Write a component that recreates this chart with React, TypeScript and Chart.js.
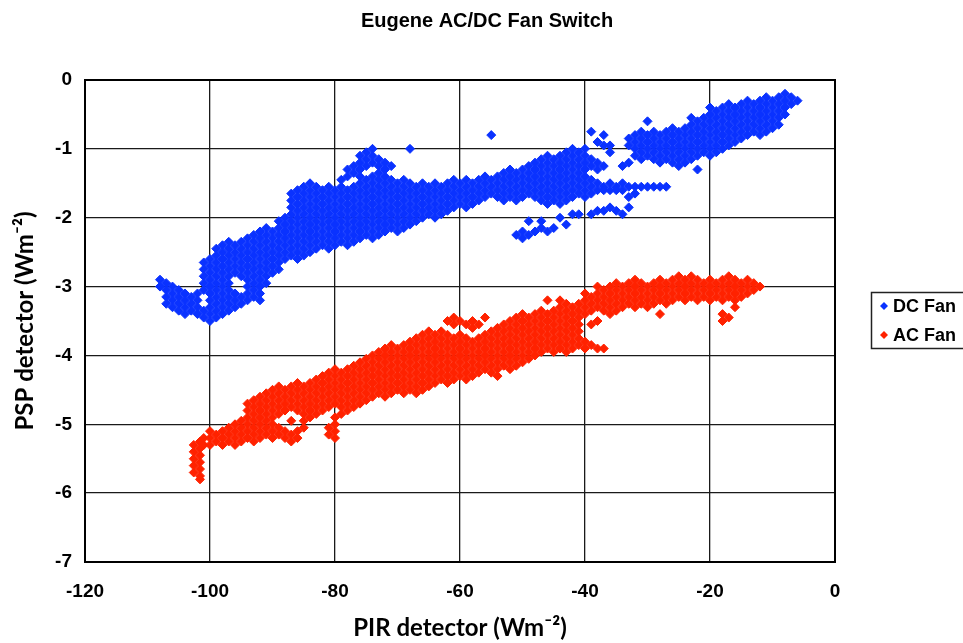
import React, { useEffect, useRef } from 'react';
import { Chart, registerables } from 'chart.js';

Chart.register(...registerables);

const chartTitle = 'Eugene AC/DC Fan Switch';
const xAxisTitle = 'PIR detector (Wm⁻²)';
const yAxisTitle = 'PSP detector (Wm⁻²)';
const seriesNames = ['DC Fan', 'AC Fan'];
const xTickValues = [-120, -100, -80, -60, -40, -20, 0];
const yTickValues = [0, -1, -2, -3, -4, -5, -6, -7];

// DC Fan: [PIR x, PSP y values read at that x]
const dcColumns: [number, number[]][] = [
  [-108, [-2.9, -3.0]],
  [-107, [-2.95, -3.05, -3.15, -3.25]],
  [-106, [-3.0, -3.1, -3.2, -3.3]],
  [-105, [-3.05, -3.15, -3.25, -3.35]],
  [-104, [-3.1, -3.2, -3.3, -3.4]],
  [-103, [-3.15, -3.25, -3.35]],
  [-102, [-3.1, -3.2, -3.3, -3.4]],
  [-101, [-2.65, -2.75, -2.85, -2.95, -3.05, -3.35, -3.45]],
  [-100, [-2.6, -2.7, -2.8, -2.9, -3.0, -3.1, -3.2, -3.3, -3.4, -3.5]],
  [-99, [-2.45, -2.55, -2.65, -2.75, -2.85, -2.95, -3.05, -3.15, -3.25, -3.35, -3.45]],
  [-98, [-2.4, -2.5, -2.6, -2.7, -2.8, -2.9, -3.0, -3.1, -3.2, -3.3, -3.4]],
  [-97, [-2.35, -2.45, -2.55, -2.65, -2.75, -2.85, -2.95, -3.05, -3.15, -3.25, -3.35]],
  [-96, [-2.4, -2.5, -2.6, -2.7, -2.8, -3.1, -3.2, -3.3]],
  [-95, [-2.35, -2.45, -2.55, -2.65, -2.75, -2.85, -3.15, -3.25]],
  [-94, [-2.3, -2.4, -2.5, -2.6, -2.7, -2.8, -2.9, -3.0, -3.1, -3.2]],
  [-93, [-2.25, -2.35, -2.45, -2.55, -2.65, -2.75, -2.85, -2.95, -3.05, -3.15]],
  [-92, [-2.2, -2.3, -2.4, -2.5, -2.6, -2.7, -2.8, -2.9, -3.0, -3.1, -3.2]],
  [-91, [-2.15, -2.25, -2.35, -2.45, -2.55, -2.65, -2.75, -2.85, -2.95]],
  [-90, [-2.2, -2.3, -2.4, -2.5, -2.6, -2.7, -2.8]],
  [-89, [-2.05, -2.15, -2.25, -2.35, -2.45, -2.55, -2.65, -2.75]],
  [-88, [-2.0, -2.1, -2.2, -2.3, -2.4, -2.5, -2.6]],
  [-87, [-1.65, -1.75, -1.85, -1.95, -2.05, -2.15, -2.25, -2.35, -2.45, -2.55]],
  [-86, [-1.6, -1.7, -1.8, -1.9, -2.0, -2.1, -2.2, -2.3, -2.4, -2.5, -2.6]],
  [-85, [-1.55, -1.65, -1.75, -1.85, -1.95, -2.05, -2.15, -2.25, -2.35, -2.45, -2.55]],
  [-84, [-1.5, -1.6, -1.7, -1.8, -1.9, -2.0, -2.1, -2.2, -2.3, -2.4, -2.5]],
  [-83, [-1.55, -1.65, -1.75, -1.85, -1.95, -2.05, -2.15, -2.25, -2.35, -2.45]],
  [-82, [-1.6, -1.7, -1.8, -1.9, -2.0, -2.1, -2.2, -2.3, -2.4]],
  [-81, [-1.55, -1.65, -1.75, -1.85, -1.95, -2.05, -2.15, -2.25, -2.35, -2.45]],
  [-80, [-1.6, -1.7, -1.8, -1.9, -2.0, -2.1, -2.2, -2.3, -2.4]],
  [-79, [-1.45, -1.55, -1.65, -1.75, -1.85, -1.95, -2.05, -2.15, -2.25, -2.35]],
  [-78, [-1.3, -1.4, -1.6, -1.7, -1.8, -1.9, -2.0, -2.1, -2.2, -2.3, -2.4]],
  [-77, [-1.25, -1.35, -1.55, -1.65, -1.75, -1.85, -1.95, -2.05, -2.15, -2.25, -2.35]],
  [-76, [-1.1, -1.2, -1.3, -1.4, -1.5, -1.6, -1.7, -1.8, -1.9, -2.0, -2.1, -2.2, -2.3]],
  [-75, [-1.05, -1.15, -1.25, -1.45, -1.55, -1.65, -1.75, -1.85, -1.95, -2.05, -2.15, -2.25]],
  [-74, [-1.0, -1.1, -1.2, -1.4, -1.5, -1.6, -1.7, -1.8, -1.9, -2.0, -2.1, -2.2, -2.3]],
  [-73, [-1.15, -1.25, -1.35, -1.45, -1.55, -1.65, -1.75, -1.85, -1.95, -2.05, -2.15, -2.25]],
  [-72, [-1.2, -1.3, -1.4, -1.5, -1.6, -1.7, -1.8, -1.9, -2.0, -2.1, -2.2]],
  [-71, [-1.25, -1.45, -1.55, -1.65, -1.75, -1.85, -1.95, -2.05, -2.15]],
  [-70, [-1.5, -1.6, -1.7, -1.8, -1.9, -2.0, -2.1, -2.2]],
  [-69, [-1.45, -1.55, -1.65, -1.75, -1.85, -1.95, -2.05, -2.15]],
  [-68, [-1.0, -1.5, -1.6, -1.7, -1.8, -1.9, -2.0, -2.1]],
  [-67, [-1.55, -1.65, -1.75, -1.85, -1.95, -2.05]],
  [-66, [-1.5, -1.6, -1.7, -1.8, -1.9, -2.0]],
  [-65, [-1.55, -1.65, -1.75, -1.85, -1.95]],
  [-64, [-1.5, -1.6, -1.7, -1.8, -1.9, -2.0]],
  [-63, [-1.55, -1.65, -1.75, -1.85, -1.95]],
  [-62, [-1.5, -1.6, -1.7, -1.8, -1.9]],
  [-61, [-1.45, -1.55, -1.65, -1.75, -1.85]],
  [-60, [-1.5, -1.6, -1.7, -1.8]],
  [-59, [-1.45, -1.55, -1.65, -1.75, -1.85]],
  [-58, [-1.5, -1.6, -1.7, -1.8]],
  [-57, [-1.45, -1.55, -1.65, -1.75]],
  [-56, [-1.4, -1.5, -1.6, -1.7]],
  [-55, [-0.8, -1.45, -1.55, -1.65]],
  [-54, [-1.4, -1.5, -1.6, -1.7]],
  [-53, [-1.35, -1.45, -1.55, -1.65, -1.75]],
  [-52, [-1.3, -1.4, -1.5, -1.6, -1.7]],
  [-51, [-1.35, -1.45, -1.55, -1.65, -1.75, -2.25]],
  [-50, [-1.3, -1.4, -1.5, -1.6, -1.7, -2.2, -2.3]],
  [-49, [-1.25, -1.35, -1.45, -1.55, -1.65, -2.05, -2.25]],
  [-48, [-1.2, -1.3, -1.4, -1.5, -1.6, -1.7, -2.2]],
  [-47, [-1.15, -1.25, -1.35, -1.45, -1.55, -1.65, -1.75, -2.05, -2.15]],
  [-46, [-1.1, -1.2, -1.3, -1.4, -1.5, -1.6, -1.7, -1.8, -2.2]],
  [-45, [-1.15, -1.25, -1.35, -1.45, -1.55, -1.65, -1.75, -2.15]],
  [-44, [-1.1, -1.2, -1.3, -1.4, -1.5, -1.6, -1.7, -1.8, -2.0]],
  [-43, [-1.05, -1.15, -1.25, -1.35, -1.45, -1.55, -1.65, -1.75, -2.1]],
  [-42, [-1.0, -1.1, -1.2, -1.3, -1.4, -1.5, -1.6, -1.7, -1.95]],
  [-41, [-1.05, -1.15, -1.25, -1.35, -1.45, -1.55, -1.65, -1.95]],
  [-40, [-1.0, -1.1, -1.2, -1.3, -1.4, -1.5, -1.6, -1.7]],
  [-39, [-0.75, -1.15, -1.25, -1.45, -1.55, -1.65, -1.95]],
  [-38, [-0.9, -1.2, -1.3, -1.5, -1.6, -1.9]],
  [-37, [-0.8, -0.95, -1.25, -1.55, -1.6, -1.9]],
  [-36, [-0.95, -1.05, -1.5, -1.6, -1.85]],
  [-35, [-1.55, -1.6, -1.9]],
  [-34, [-1.25, -1.5, -1.6, -1.95]],
  [-33, [-0.85, -0.95, -1.2, -1.55, -1.7, -1.85]],
  [-32, [-0.8, -0.9, -1.0, -1.1, -1.55, -1.65]],
  [-31, [-0.75, -0.85, -0.95, -1.05, -1.15, -1.55]],
  [-30, [-0.6, -0.8, -0.9, -1.0, -1.1, -1.55]],
  [-29, [-0.75, -0.85, -0.95, -1.05, -1.15, -1.55]],
  [-28, [-0.8, -0.9, -1.0, -1.1, -1.2, -1.55]],
  [-27, [-0.75, -0.85, -0.95, -1.05, -1.15, -1.55]],
  [-26, [-0.7, -0.8, -0.9, -1.0, -1.1, -1.2]],
  [-25, [-0.75, -0.85, -0.95, -1.05, -1.15, -1.25]],
  [-24, [-0.7, -0.8, -0.9, -1.0, -1.1, -1.2]],
  [-23, [-0.55, -0.65, -0.75, -0.85, -0.95, -1.05, -1.15]],
  [-22, [-0.6, -0.7, -0.8, -0.9, -1.0, -1.1, -1.3]],
  [-21, [-0.55, -0.65, -0.75, -0.85, -0.95, -1.05]],
  [-20, [-0.4, -0.5, -0.6, -0.7, -0.8, -0.9, -1.0, -1.1]],
  [-19, [-0.45, -0.55, -0.65, -0.75, -0.85, -0.95, -1.05]],
  [-18, [-0.4, -0.5, -0.6, -0.7, -0.8, -0.9, -1.0]],
  [-17, [-0.35, -0.45, -0.55, -0.65, -0.75, -0.85, -0.95]],
  [-16, [-0.4, -0.5, -0.6, -0.7, -0.8, -0.9]],
  [-15, [-0.35, -0.45, -0.55, -0.65, -0.75, -0.85]],
  [-14, [-0.3, -0.4, -0.5, -0.6, -0.7, -0.8]],
  [-13, [-0.35, -0.45, -0.55, -0.65, -0.75]],
  [-12, [-0.3, -0.4, -0.5, -0.6, -0.7, -0.8]],
  [-11, [-0.25, -0.35, -0.45, -0.55, -0.65, -0.75]],
  [-10, [-0.3, -0.4, -0.5, -0.6, -0.7]],
  [-9, [-0.25, -0.35, -0.45, -0.55, -0.65]],
  [-8, [-0.2, -0.3, -0.4, -0.5]],
  [-7, [-0.25, -0.35]],
  [-6, [-0.3]],
];

// AC Fan: [PIR x, PSP y values read at that x]
const acColumns: [number, number[]][] = [
  [-102.6, [-5.3, -5.4, -5.5, -5.6, -5.7]],
  [-101.6, [-5.25, -5.35, -5.45, -5.55, -5.65, -5.75, -5.8]],
  [-101, [-5.2, -5.3]],
  [-100, [-5.1, -5.2, -5.3]],
  [-99, [-5.15, -5.25]],
  [-98, [-5.1, -5.2, -5.3]],
  [-97, [-5.05, -5.15, -5.25]],
  [-96, [-5.0, -5.1, -5.2, -5.3]],
  [-95, [-4.95, -5.05, -5.15, -5.25]],
  [-94, [-4.7, -4.8, -4.9, -5.0, -5.1, -5.2]],
  [-93, [-4.65, -4.75, -4.85, -4.95, -5.05, -5.15, -5.25]],
  [-92, [-4.6, -4.7, -4.8, -4.9, -5.0, -5.1, -5.2]],
  [-91, [-4.55, -4.65, -4.75, -4.85, -4.95, -5.05, -5.15]],
  [-90, [-4.5, -4.6, -4.7, -4.8, -4.9, -5.0, -5.1, -5.2]],
  [-89, [-4.45, -4.55, -4.65, -4.75, -4.85, -5.05, -5.15]],
  [-88, [-4.5, -4.6, -4.7, -4.8, -5.1, -5.2]],
  [-87, [-4.45, -4.55, -4.65, -4.75, -4.95, -5.15, -5.25]],
  [-86, [-4.4, -4.5, -4.6, -4.7, -4.8, -5.1, -5.2]],
  [-85, [-4.45, -4.55, -4.65, -4.75, -4.85, -4.95, -5.05]],
  [-84, [-4.4, -4.5, -4.6, -4.7, -4.8, -4.9]],
  [-83, [-4.35, -4.45, -4.55, -4.65, -4.75, -4.85]],
  [-82, [-4.3, -4.4, -4.5, -4.6, -4.7, -4.8]],
  [-81, [-4.25, -4.35, -4.45, -4.55, -4.65, -4.75, -5.05, -5.15]],
  [-80, [-4.2, -4.3, -4.4, -4.5, -4.6, -4.7, -4.9, -5.0, -5.1, -5.2]],
  [-79, [-4.25, -4.35, -4.45, -4.55, -4.65, -4.75, -4.85]],
  [-78, [-4.2, -4.3, -4.4, -4.5, -4.6, -4.7, -4.8]],
  [-77, [-4.15, -4.25, -4.35, -4.45, -4.55, -4.65, -4.75]],
  [-76, [-4.1, -4.2, -4.3, -4.4, -4.5, -4.6, -4.7]],
  [-75, [-4.05, -4.15, -4.25, -4.35, -4.45, -4.55, -4.65]],
  [-74, [-4.0, -4.1, -4.2, -4.3, -4.4, -4.5, -4.6]],
  [-73, [-3.95, -4.05, -4.15, -4.25, -4.35, -4.45, -4.55]],
  [-72, [-3.9, -4.0, -4.1, -4.2, -4.3, -4.4, -4.5, -4.6]],
  [-71, [-3.85, -3.95, -4.05, -4.15, -4.25, -4.35, -4.45, -4.55]],
  [-70, [-3.9, -4.0, -4.1, -4.2, -4.3, -4.4, -4.5]],
  [-69, [-3.85, -3.95, -4.05, -4.15, -4.25, -4.35, -4.45, -4.55]],
  [-68, [-3.8, -3.9, -4.0, -4.1, -4.2, -4.3, -4.4, -4.5]],
  [-67, [-3.75, -3.85, -3.95, -4.05, -4.15, -4.25, -4.35, -4.45, -4.55]],
  [-66, [-3.7, -3.8, -3.9, -4.0, -4.1, -4.2, -4.3, -4.4, -4.5]],
  [-65, [-3.65, -3.75, -3.85, -3.95, -4.05, -4.15, -4.25, -4.35, -4.45]],
  [-64, [-3.7, -3.8, -3.9, -4.0, -4.1, -4.2, -4.3, -4.4]],
  [-63, [-3.65, -3.75, -3.85, -3.95, -4.05, -4.15, -4.25, -4.35]],
  [-62, [-3.5, -3.7, -3.8, -3.9, -4.0, -4.1, -4.2, -4.3, -4.4]],
  [-61, [-3.45, -3.55, -3.75, -3.85, -3.95, -4.05, -4.15, -4.25, -4.35]],
  [-60, [-3.5, -3.7, -3.8, -3.9, -4.0, -4.1, -4.2, -4.3]],
  [-59, [-3.55, -3.75, -3.85, -3.95, -4.05, -4.15, -4.25, -4.35]],
  [-58, [-3.5, -3.6, -3.8, -3.9, -4.0, -4.1, -4.2, -4.3]],
  [-57, [-3.55, -3.75, -3.85, -3.95, -4.05, -4.15, -4.25]],
  [-56, [-3.45, -3.7, -3.8, -3.9, -4.0, -4.1, -4.2]],
  [-55, [-3.65, -3.75, -3.85, -3.95, -4.05, -4.15, -4.25]],
  [-54, [-3.6, -3.7, -3.8, -3.9, -4.0, -4.1, -4.2, -4.3]],
  [-53, [-3.55, -3.65, -3.75, -3.85, -3.95, -4.05, -4.15]],
  [-52, [-3.5, -3.6, -3.7, -3.8, -3.9, -4.0, -4.1, -4.2]],
  [-51, [-3.45, -3.55, -3.65, -3.75, -3.85, -3.95, -4.05, -4.15]],
  [-50, [-3.4, -3.5, -3.6, -3.7, -3.8, -3.9, -4.0, -4.1]],
  [-49, [-3.45, -3.55, -3.65, -3.75, -3.85, -3.95, -4.05]],
  [-48, [-3.4, -3.5, -3.6, -3.7, -3.8, -3.9, -4.0]],
  [-47, [-3.35, -3.45, -3.55, -3.65, -3.75, -3.85, -3.95]],
  [-46, [-3.2, -3.4, -3.5, -3.6, -3.7, -3.8, -3.9]],
  [-45, [-3.35, -3.45, -3.55, -3.65, -3.75, -3.85, -3.95]],
  [-44, [-3.2, -3.3, -3.4, -3.5, -3.6, -3.7, -3.8, -3.9]],
  [-43, [-3.25, -3.35, -3.45, -3.55, -3.65, -3.75, -3.85, -3.95]],
  [-42, [-3.3, -3.4, -3.5, -3.6, -3.7, -3.8, -3.9]],
  [-41, [-3.25, -3.35, -3.45, -3.55, -3.65, -3.75, -3.85]],
  [-40, [-3.1, -3.2, -3.3, -3.4, -3.8, -3.9]],
  [-39, [-3.15, -3.25, -3.35, -3.55, -3.85]],
  [-38, [-3.0, -3.1, -3.2, -3.3, -3.5, -3.9]],
  [-37, [-3.05, -3.15, -3.25, -3.35, -3.9]],
  [-36, [-3.0, -3.1, -3.2, -3.3, -3.4]],
  [-35, [-2.95, -3.05, -3.15, -3.25, -3.35]],
  [-34, [-3.0, -3.1, -3.2, -3.3]],
  [-33, [-2.95, -3.05, -3.15, -3.25]],
  [-32, [-2.9, -3.0, -3.1, -3.2, -3.3]],
  [-31, [-2.95, -3.05, -3.15, -3.25]],
  [-30, [-3.0, -3.1, -3.2, -3.3]],
  [-29, [-2.95, -3.05, -3.15, -3.25]],
  [-28, [-2.9, -3.0, -3.1, -3.2, -3.4]],
  [-27, [-2.95, -3.05, -3.15, -3.25]],
  [-26, [-2.9, -3.0, -3.1, -3.2]],
  [-25, [-2.85, -2.95, -3.05, -3.15]],
  [-24, [-2.9, -3.0, -3.1, -3.2]],
  [-23, [-2.85, -2.95, -3.05, -3.15]],
  [-22, [-2.9, -3.0, -3.1, -3.2]],
  [-21, [-2.95, -3.05, -3.15]],
  [-20, [-2.9, -3.0, -3.1, -3.2]],
  [-19, [-2.95, -3.05, -3.15]],
  [-18, [-2.9, -3.0, -3.1, -3.2, -3.4, -3.5]],
  [-17, [-2.85, -2.95, -3.05, -3.15, -3.45]],
  [-16, [-2.9, -3.0, -3.1, -3.2, -3.3]],
  [-15, [-2.95, -3.05, -3.15]],
  [-14, [-2.9, -3.0, -3.1]],
  [-13, [-2.95, -3.05]],
  [-12, [-3.0]],
];

const dcColor = '#0a32ff';
const acColor = '#ff2200';
const FONT = "'Liberation Sans', Arial, sans-serif";
const TITLE_FONT = "Lato, 'Open Sans', sans-serif";

const toPoints = (cols: [number, number[]][]) =>
  cols.flatMap(([x, ys]) => ys.map((y) => ({ x, y })));

const framePlugin = {
  id: 'frame',
  beforeDatasetsDraw(chart: any) {
    const { ctx, chartArea: a } = chart;
    ctx.save();
    ctx.strokeStyle = '#000';
    ctx.lineWidth = 2;
    ctx.strokeRect(a.left, a.top, a.right - a.left, a.bottom - a.top);
    ctx.restore();
  },
};

const legendPlugin = {
  id: 'customLegend',
  afterDraw(chart: any) {
    const { ctx } = chart;
    ctx.save();
    ctx.fillStyle = '#fff';
    ctx.fillRect(871, 292, 140, 56);
    ctx.strokeStyle = '#222';
    ctx.lineWidth = 1.5;
    ctx.strokeRect(871.5, 292.5, 140, 56);
    const items = [
      { label: seriesNames[0], color: dcColor, y: 306 },
      { label: seriesNames[1], color: acColor, y: 335 },
    ];
    items.forEach((it) => {
      ctx.fillStyle = it.color;
      ctx.beginPath();
      const cx = 884;
      const r = 4;
      ctx.moveTo(cx - r, it.y);
      ctx.lineTo(cx, it.y - r);
      ctx.lineTo(cx + r, it.y);
      ctx.lineTo(cx, it.y + r);
      ctx.closePath();
      ctx.fill();
      ctx.fillStyle = '#000';
      ctx.font = `bold 18px ${FONT}`;
      ctx.textBaseline = 'middle';
      ctx.textAlign = 'left';
      ctx.fillText(it.label, 893, it.y + 1);
    });
    ctx.restore();
  },
};

export default function App() {
  const ref = useRef<HTMLCanvasElement>(null);
  useEffect(() => {
    if (!ref.current) return;
    const chart = new Chart(ref.current, {
      type: 'scatter',
      data: {
        datasets: [
          {
            label: seriesNames[0],
            data: toPoints(dcColumns),
            pointStyle: 'rectRot',
            pointRadius: 4.5,
            borderWidth: 1,
            backgroundColor: dcColor,
            borderColor: dcColor,
          },
          {
            label: seriesNames[1],
            data: toPoints(acColumns),
            pointStyle: 'rectRot',
            pointRadius: 4.5,
            borderWidth: 1,
            backgroundColor: acColor,
            borderColor: acColor,
          },
        ],
      },
      options: {
        responsive: false,
        maintainAspectRatio: false,
        animation: false,
        devicePixelRatio: 1,
        events: [],
        layout: { padding: { left: 11, right: 0, top: 0, bottom: 0 } },
        plugins: {
          legend: { display: false },
          tooltip: { enabled: false },
          title: {
            display: true,
            text: chartTitle,
            color: '#000',
            font: { family: FONT, size: 20, weight: 'bold' },
            padding: { top: 9, bottom: 47 },
          },
        },
        scales: {
          x: {
            type: 'linear',
            min: -120,
            max: 0,
            afterBuildTicks: (s: any) => {
              s.ticks = xTickValues.map((v) => ({ value: v }));
            },
            afterFit: (s: any) => {
              s.height = 81;
            },
            grid: { color: '#1a1a1a', lineWidth: 1.3, drawTicks: false },
            border: { display: false },
            ticks: {
              color: '#000',
              padding: 18,
              font: { family: FONT, size: 19, weight: 'bold' },
            },
            title: {
              display: true,
              text: xAxisTitle,
              color: '#000',
              font: { family: TITLE_FONT, size: 24, weight: 'bold' },
              padding: { top: 0, bottom: 0 },
            },
          },
          y: {
            type: 'linear',
            min: -7,
            max: 0,
            afterBuildTicks: (s: any) => {
              s.ticks = yTickValues.map((v) => ({ value: v }));
            },
            afterFit: (s: any) => {
              s.width = 74;
            },
            grid: { color: '#1a1a1a', lineWidth: 1.3, drawTicks: false },
            border: { display: false },
            ticks: {
              color: '#000',
              padding: 13,
              font: { family: FONT, size: 19, weight: 'bold' },
            },
            title: {
              display: true,
              text: yAxisTitle,
              color: '#000',
              font: { family: TITLE_FONT, size: 24, weight: 'bold' },
              padding: { top: 0, bottom: 0 },
            },
          },
          yRight: {
            type: 'linear',
            position: 'right',
            min: -7,
            max: 0,
            afterFit: (s: any) => {
              s.width = 128;
            },
            grid: { display: false, drawTicks: false },
            border: { display: false },
            ticks: { display: false },
            title: { display: false },
          },
        },
      } as any,
      plugins: [framePlugin, legendPlugin],
    });
    return () => chart.destroy();
  }, []);
  return (
    <div style={{ position: 'fixed', left: 0, top: 0, width: 963, height: 643, background: '#fff', overflow: 'hidden' }}>
      <canvas ref={ref} width={963} height={643} style={{ display: 'block' }} />
    </div>
  );
}
